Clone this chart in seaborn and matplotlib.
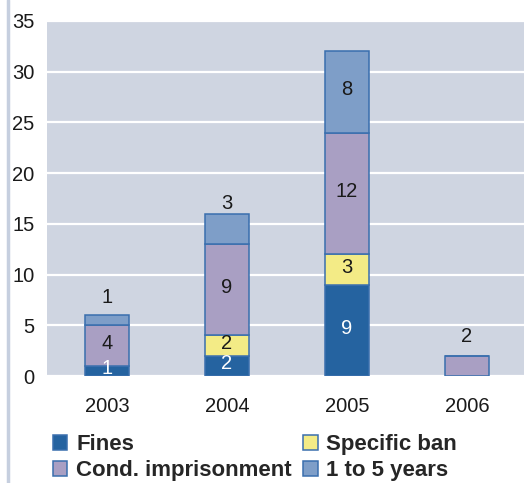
import pandas as pd
import numpy as np
import matplotlib.pyplot as plt
import seaborn as sns
from matplotlib.patches import Patch
from matplotlib.lines import Line2D

# data
years = ['2003', '2004', '2005', '2006']
fines = [1, 2, 9, 0]
specific_ban = [0, 2, 3, 0]
cond_prison = [4, 9, 12, 2]
one_to_five = [1, 3, 8, 0]

series_names = ['Fines', 'Specific ban', 'Cond. imprisonment', '1 to 5 years']
series_values = [fines, specific_ban, cond_prison, one_to_five]
series_colors = ['#2563a0', '#f3eb86', '#a99fc3', '#7e9ec8']
label_colors = ['white', '#1a1a1a', '#1a1a1a', '#1a1a1a']
# where the top label of a bar sits above the bar (None = inside)
top_label_lift = [1.7, 1.0, None, 1.85]

edge = '#3a6fae'
bg = '#cfd5e1'

sns.set_theme(style='white')
plt.rcParams['font.family'] = ['Liberation Sans', 'DejaVu Sans']

fig = plt.figure(figsize=(5.24, 4.83), dpi=100)
ax = fig.add_axes([47 / 524, 1 - 376 / 483, 480 / 524, 355 / 483])
ax.set_facecolor(bg)

bottom = np.zeros(len(years))
for name, vals, col in zip(series_names, series_values, series_colors):
    df = pd.DataFrame({'year': years, 'n': vals})
    sns.barplot(data=df, x='year', y='n', order=years, color=col,
                bottom=bottom, width=0.36, edgecolor=edge, linewidth=1.1,
                saturation=1, ax=ax, zorder=3)
    bottom = bottom + np.array(vals)

# value labels
totals = np.sum(series_values, axis=0)
for i in range(len(years)):
    base = 0
    top_idx = max(k for k in range(4) if series_values[k][i] > 0)
    for k in range(4):
        v = series_values[k][i]
        if v == 0:
            continue
        if k == top_idx and top_label_lift[i] is not None:
            y = totals[i] + top_label_lift[i]
        else:
            y = base + v / 2 + 0.2
        ax.text(i, y, str(v), ha='center', va='center', fontsize=14.5,
                color=label_colors[k], zorder=5)
        base += v

ax.set_ylim(0, 35)
ax.set_xlim(-0.5, 3.5)
ax.set_yticks(range(0, 36, 5))
ax.yaxis.grid(True, color='white', linewidth=1.6, zorder=1)
ax.set_axisbelow(True)
for s in ax.spines.values():
    s.set_visible(False)
ax.tick_params(axis='y', length=0, pad=9, labelsize=14.5, labelcolor='#1a1a1a')
ax.tick_params(axis='x', length=0, pad=15, labelsize=14.5, labelcolor='#1a1a1a')
ax.set_xlabel('')
ax.set_ylabel('')

# thin line down the left edge
fig.add_artist(Line2D([8 / 524, 8 / 524], [0, 1], transform=fig.transFigure,
                      color='#c6cfdf', linewidth=2.5))

handles = [Patch(facecolor=c, edgecolor=edge, linewidth=1.1) for c in series_colors]
order = [0, 2, 1, 3]
fig.legend([handles[i] for i in order], [series_names[i] for i in order],
           ncol=2, loc='upper left', bbox_to_anchor=(53 / 524, 1 - 434 / 483),
           frameon=False, prop={'weight': 'bold', 'size': 16},
           handlelength=0.65, handleheight=0.65, handletextpad=0.4,
           columnspacing=0.5, labelspacing=0.22, borderpad=0, borderaxespad=0)

plt.savefig('out.png', dpi=100)
